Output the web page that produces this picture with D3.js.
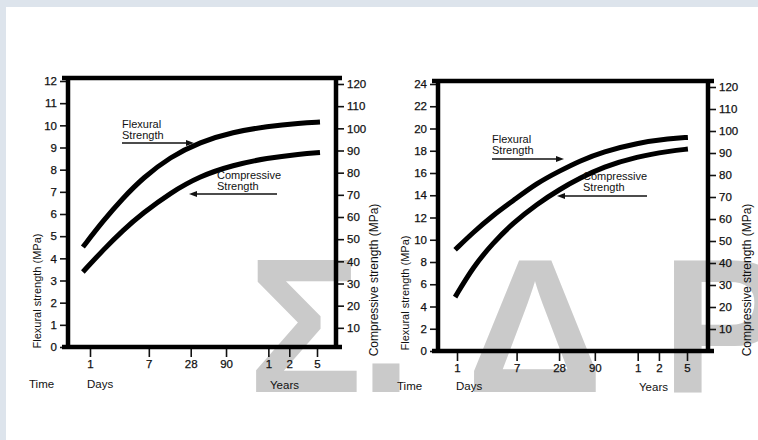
<!DOCTYPE html>
<html>
<head>
<meta charset="utf-8">
<script src="https://cdn.jsdelivr.net/npm/d3@7"></script>
<style>
body { margin: 0; background: #fff; }
svg text { font-family: "Liberation Sans", Arial, Helvetica, sans-serif; }
</style>
</head>
<body>
<svg width="758" height="440"></svg>
<script>
// time axis: ages in days, shown as days then years
const tickDays = [1, 7, 28, 90, 365, 730, 1825]
const tickLabels = ["1", "7", "28", "90", "1", "2", "5"]

// left panel
const flexTicksA = d3.range(0, 13, 1)
const compTicksA = d3.range(10, 121, 10)
const agesA = [0.79, 1.54, 2.98, 5.77, 14.1, 38, 113, 350, 1040, 2015]
const flexuralA = [4.51, 5.69, 6.72, 7.63, 8.57, 9.25, 9.7, 9.95, 10.1, 10.15]
const compressiveA = [35.2, 45.1, 54.1, 61.8, 70.8, 78.5, 83.4, 86.6, 88.4, 89.1]

// right panel
const flexTicksB = d3.range(0, 25, 2)
const compTicksB = d3.range(10, 121, 10)
const agesB = [0.94, 1.69, 3.24, 6.23, 13.6, 28.9, 55.6, 117, 357, 1050, 1880]
const flexuralB = [9.1, 10.65, 12.2, 13.5, 15.1, 16.2, 17.1, 17.9, 18.7, 19.1, 19.2]
const compressiveB = [24.5, 38.2, 49.1, 58.2, 66.8, 73.6, 78.6, 83.6, 88.4, 90.9, 91.8]

const svg = d3.select("svg")

// scan border
svg.append("rect").attr("width", 758).attr("height", 440).attr("fill", "#fff")
svg.append("rect").attr("width", 758).attr("height", 7).attr("fill", "#dde4ec")
svg.append("rect").attr("width", 6).attr("height", 440).attr("fill", "#dde4ec")

// watermark, sits behind the charts
const wm = svg.append("g")
  .attr("fill", "#cacaca")
  .attr("font-weight", "bold")
  .style("font-size", "191px")
  .attr("text-anchor", "middle")
wm.append("text").attr("x", 305).attr("y", 392).text("Σ")
wm.append("text").attr("x", 386).attr("y", 392).text(".")
wm.append("text").attr("x", 535).attr("y", 392).text("Δ")
wm.append("text").attr("x", 725).attr("y", 392).text("P")

function drawPanel(p) {
  const g = svg.append("g")

  const x = d3.scaleLog().domain([1, 1825]).range(p.xRange)
  const yL = d3.scaleLinear().domain([0, p.flexMax]).range(p.yLRange)
  const yR = d3.scaleLinear().domain([0, 120]).range(p.yRRange)

  const axL = g.append("g")
    .attr("transform", `translate(${p.left},0)`)
    .call(d3.axisLeft(yL).tickValues(p.flexTicks).tickSize(8).tickSizeOuter(0).tickPadding(3))
  const axR = g.append("g")
    .attr("transform", `translate(${p.right},0)`)
    .call(d3.axisRight(yR).tickValues(p.compTicks).tickSize(8).tickSizeOuter(0).tickPadding(3))
  const axB = g.append("g")
    .attr("transform", `translate(0,${p.bottom})`)
    .call(d3.axisBottom(x).tickValues(tickDays)
      .tickFormat((d, i) => tickLabels[i]).tickSize(10).tickSizeOuter(0).tickPadding(3))

  ;[axL, axR, axB].forEach(a => {
    a.select(".domain").remove()
    a.selectAll(".tick line").attr("stroke", "#111").attr("stroke-width", 1.6)
    a.selectAll(".tick text").attr("fill", "#111").attr("stroke", "#111").attr("stroke-width", 0.25)
      .style("font-size", "11.5px")
  })

  // heavy frame
  const frame = g.append("g").attr("stroke", "#000").attr("stroke-width", 4.5).attr("fill", "none")
  frame.append("line").attr("x1", p.left - 6).attr("x2", p.right + 6).attr("y1", p.top).attr("y2", p.top)
  frame.append("line").attr("x1", p.left - 6).attr("x2", p.right + 6).attr("y1", p.bottom).attr("y2", p.bottom)
  frame.append("line").attr("x1", p.left).attr("x2", p.left).attr("y1", p.top).attr("y2", p.bottom)
  frame.append("line").attr("x1", p.right).attr("x2", p.right).attr("y1", p.top).attr("y2", p.bottom)

  // curves
  const flexLine = d3.line().x(d => x(d[0])).y(d => yL(d[1])).curve(d3.curveBasis)
  const compLine = d3.line().x(d => x(d[0])).y(d => yR(d[1])).curve(d3.curveBasis)
  g.append("path")
    .datum(d3.zip(p.ages, p.flexural))
    .attr("d", flexLine)
    .attr("fill", "none").attr("stroke", "#000").attr("stroke-width", 5)
  g.append("path")
    .datum(d3.zip(p.ages, p.compressive))
    .attr("d", compLine)
    .attr("fill", "none").attr("stroke", "#000").attr("stroke-width", 5)

  // captions
  const t = g.append("g").attr("fill", "#111").style("font-size", "11px")
  t.append("text").attr("x", p.flexLabel[0]).attr("y", p.flexLabel[1]).text("Flexural")
  t.append("text").attr("x", p.flexLabel[0]).attr("y", p.flexLabel[1] + 11).text("Strength")
  t.append("text").attr("x", p.compLabel[0]).attr("y", p.compLabel[1]).text("Compressive")
  t.append("text").attr("x", p.compLabel[0]).attr("y", p.compLabel[1] + 11).text("Strength")

  arrow(g, p.flexArrow)
  arrow(g, p.compArrow)

  t.append("text").attr("x", p.timeX).attr("y", p.unitY).style("font-size", "11.5px").text("Time")
  t.append("text").attr("x", p.daysX).attr("y", p.unitY).style("font-size", "11.5px").text("Days")
  t.append("text").attr("x", p.yearsX).attr("y", p.unitY + 1).style("font-size", "11.5px").text("Years")

  t.append("text")
    .attr("transform", `translate(${p.leftTitle[0]},${p.leftTitle[1]}) rotate(-90)`)
    .attr("text-anchor", "middle")
    .text("Flexural strength (MPa)")
  t.append("text")
    .attr("transform", `translate(${p.rightTitle[0]},${p.rightTitle[1]}) rotate(-90)`)
    .attr("text-anchor", "middle")
    .style("font-size", "12px")
    .text("Compressive strength (MPa)")
}

function arrow(g, a) {
  const [x1, x2, y] = a
  const dir = x2 > x1 ? 1 : -1
  g.append("line").attr("x1", x1).attr("x2", x2 - dir * 6).attr("y1", y).attr("y2", y)
    .attr("stroke", "#111").attr("stroke-width", 1.3)
  g.append("path")
    .attr("d", `M${x2},${y} L${x2 - dir * 8},${y - 3} L${x2 - dir * 8},${y + 3} Z`)
    .attr("fill", "#111")
}

drawPanel({
  xRange: [90, 317], left: 68, right: 336, top: 78, bottom: 347,
  flexMax: 12, yLRange: [347, 81], yRRange: [350, 84],
  flexTicks: flexTicksA, compTicks: compTicksA,
  ages: agesA, flexural: flexuralA, compressive: compressiveA,
  flexLabel: [122, 128], compLabel: [217, 179],
  flexArrow: [122, 194, 143], compArrow: [277, 189, 194],
  timeX: 29, daysX: 87, yearsX: 270, unitY: 388,
  leftTitle: [41, 291], rightTitle: [378, 280]
})

drawPanel({
  xRange: [457, 687], left: 438, right: 708, top: 81, bottom: 351,
  flexMax: 24, yLRange: [351, 84], yRRange: [351, 87],
  flexTicks: flexTicksB, compTicks: compTicksB,
  ages: agesB, flexural: flexuralB, compressive: compressiveB,
  flexLabel: [492, 143], compLabel: [583, 180],
  flexArrow: [492, 564, 159], compArrow: [647, 557, 196],
  timeX: 397, daysX: 456, yearsX: 639, unitY: 390,
  leftTitle: [409, 293], rightTitle: [751, 280]
})
</script>
</body>
</html>
